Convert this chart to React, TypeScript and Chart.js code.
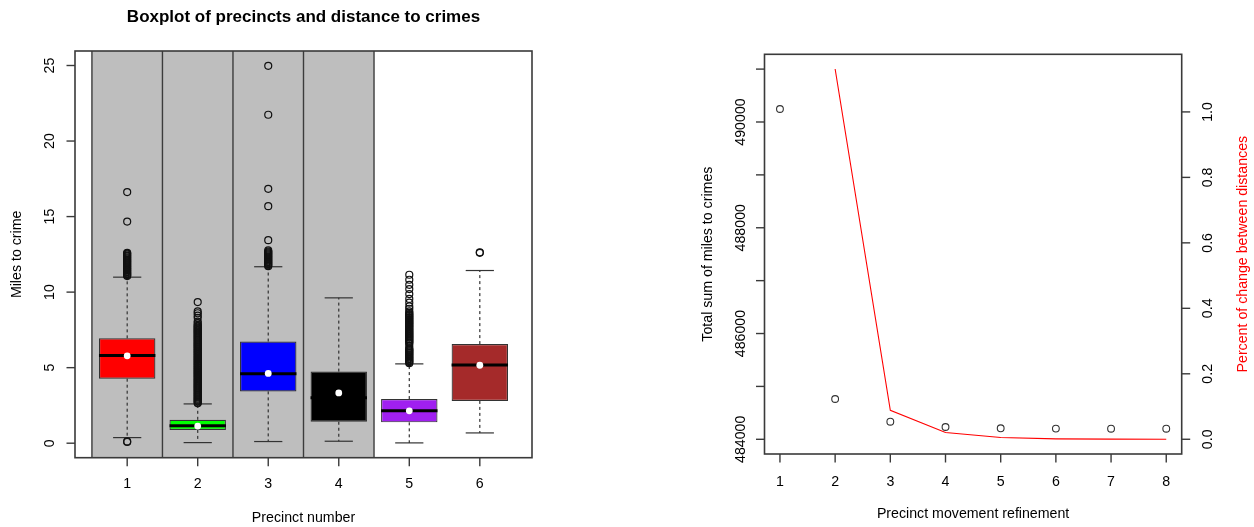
import { useEffect, useRef } from 'react';
import { Chart, registerables } from 'chart.js';

Chart.register(...registerables);

const FONT_FAMILY = '"Liberation Sans", Arial, Helvetica, sans-serif';
const LABEL_PX = 14.2;
const TITLE_PX = 17;

// ---------- Left panel: miles from each precinct to its crimes ----------
const precincts = [1, 2, 3, 4, 5, 6];
const precinctTickLabels = ['1', '2', '3', '4', '5', '6'];
const milesTicks = [0, 5, 10, 15, 20, 25];
const milesTickLabels = ['0', '5', '10', '15', '20', '25'];

const lowerWhisker = [0.37, 0.04, 0.11, 0.13, 0.02, 0.68];
const lowerQuartile = [4.27, 0.88, 3.43, 1.42, 1.38, 2.8];
const medianMiles = [5.8, 1.15, 4.59, 3.0, 2.14, 5.17];
const upperQuartile = [6.94, 1.55, 6.73, 4.74, 2.92, 6.56];
const upperWhisker = [10.99, 2.6, 11.68, 9.62, 5.25, 11.43];
const meanMiles = [5.78, 1.13, 4.62, 3.33, 2.14, 5.16];

const outliersP1 = [0.08, 0.12, 11.06, 11.12, 11.19, 11.25, 11.32, 11.38, 11.45, 11.51, 11.58, 11.64, 11.71,
  11.77, 11.84, 11.9, 11.97, 12.03, 12.1, 12.16, 12.23, 12.29, 12.36, 12.42, 12.49, 12.55, 12.6, 14.67, 16.62];
const outliersP2 = [2.64, 2.7, 2.77, 2.83, 2.9, 2.96, 3.03, 3.09, 3.16, 3.22, 3.29, 3.35, 3.42, 3.48, 3.55, 3.61,
  3.68, 3.74, 3.81, 3.87, 3.94, 4.0, 4.07, 4.13, 4.2, 4.26, 4.33, 4.39, 4.46, 4.52, 4.59, 4.65, 4.72, 4.78, 4.85,
  4.91, 4.98, 5.04, 5.11, 5.17, 5.24, 5.3, 5.37, 5.43, 5.5, 5.56, 5.63, 5.69, 5.76, 5.82, 5.89, 5.95, 6.02, 6.08,
  6.15, 6.21, 6.28, 6.34, 6.41, 6.47, 6.54, 6.6, 6.67, 6.73, 6.8, 6.86, 6.93, 6.99, 7.06, 7.12, 7.19, 7.25, 7.32,
  7.38, 7.45, 7.51, 7.58, 7.64, 7.71, 7.77, 7.84, 7.95, 8.05, 8.3, 8.44, 8.6, 8.72, 9.34];
const outliersP3 = [11.72, 11.78, 11.85, 11.91, 11.98, 12.04, 12.11, 12.17, 12.24, 12.3, 12.37, 12.43, 12.5,
  12.56, 12.63, 12.69, 12.76, 13.44, 15.69, 16.84, 21.74, 24.98];
const outliersP4: number[] = [];
const outliersP5 = [5.3, 5.36, 5.43, 5.49, 5.56, 5.62, 5.69, 5.75, 5.82, 5.88, 5.95, 6.01, 6.08, 6.14, 6.21,
  6.27, 6.44, 6.6, 6.66, 6.73, 6.79, 6.86, 6.92, 6.99, 7.05, 7.12, 7.18, 7.25, 7.31, 7.38, 7.44, 7.51, 7.57, 7.64,
  7.7, 7.77, 7.83, 7.9, 7.96, 8.03, 8.09, 8.16, 8.22, 8.29, 8.35, 8.42, 8.48, 8.55, 8.62, 8.72, 8.9, 9.05, 9.3,
  9.55, 9.87, 10.2, 10.48, 10.82, 11.15];
const outliersP6 = [12.6, 12.64];
const precinctOutliers = [outliersP1, outliersP2, outliersP3, outliersP4, outliersP5, outliersP6];

const boxFill = ['#FF0000', '#00FF00', '#0000FF', '#000000', '#A020F0', '#A52A2A'];
const shadedPrecincts = [1, 2, 3, 4];

// ---------- Right panel: precinct movement refinement ----------
const refinementSteps = [1, 2, 3, 4, 5, 6, 7, 8];
const refinementTickLabels = ['1', '2', '3', '4', '5', '6', '7', '8'];
const totalMiles = [490246, 484762, 484333, 484233, 484208, 484202, 484200, 484200];
const percentChange = [null, 1.131, 0.0886, 0.0207, 0.0052, 0.0012, 0.0004, 0.0];
const totalMilesTicks = [484000, 485000, 486000, 487000, 488000, 489000, 490000, 491000];
const totalMilesLabelled = ['484000', '', '486000', '', '488000', '', '490000', ''];
const percentTicks = [0, 0.2, 0.4, 0.6, 0.8, 1.0];
const percentTickLabels = ['0.0', '0.2', '0.4', '0.6', '0.8', '1.0'];

// ---------- drawing helpers ----------
type Ctx = CanvasRenderingContext2D;
const TICK_LEN = 8.5;
const AXIS_COLOR = '#3a3a3a';

const fontOf = (size: number, bold = false) => `${bold ? 'bold ' : ''}${size}px ${FONT_FAMILY}`;

function seg(ctx: Ctx, x1: number, y1: number, x2: number, y2: number) {
  ctx.beginPath();
  ctx.moveTo(x1, y1);
  ctx.lineTo(x2, y2);
  ctx.stroke();
}

function textH(ctx: Ctx, s: string, x: number, baseline: number, size: number, color = '#000', bold = false) {
  ctx.save();
  ctx.font = fontOf(size, bold);
  ctx.fillStyle = color;
  ctx.textAlign = 'center';
  ctx.textBaseline = 'alphabetic';
  ctx.fillText(s, x, baseline);
  ctx.restore();
}

// text reading bottom-to-top; `baseline` is the x of the glyph baseline
function textV(ctx: Ctx, s: string, baseline: number, y: number, size: number, color = '#000') {
  ctx.save();
  ctx.translate(baseline, y);
  ctx.rotate(-Math.PI / 2);
  ctx.font = fontOf(size);
  ctx.fillStyle = color;
  ctx.textAlign = 'center';
  ctx.textBaseline = 'alphabetic';
  ctx.fillText(s, 0, 0);
  ctx.restore();
}

function frame(ctx: Ctx, a: { left: number; right: number; top: number; bottom: number }) {
  ctx.save();
  ctx.strokeStyle = AXIS_COLOR;
  ctx.lineWidth = 1.6;
  ctx.strokeRect(a.left, a.top, a.right - a.left, a.bottom - a.top);
  ctx.restore();
}

const hiddenLinear = (min: number, max: number, extra: Record<string, unknown> = {}) => ({
  type: 'linear' as const,
  display: false,
  offset: false,
  min,
  max,
  grid: { offset: false },
  ...extra,
});

function BoxplotPanel() {
  const ref = useRef<HTMLCanvasElement>(null);
  useEffect(() => {
    const canvas = ref.current;
    if (!canvas) return;

    const decor = {
      id: 'boxplotDecor',
      beforeDatasetsDraw(chart: any) {
        const { ctx, chartArea: a, scales } = chart;
        const x = scales.x;
        const y = scales.y;
        ctx.save();
        // shaded precinct panels
        const left = x.getPixelForValue(shadedPrecincts[0] - 0.5);
        const right = x.getPixelForValue(shadedPrecincts[shadedPrecincts.length - 1] + 0.5);
        ctx.fillStyle = '#BEBEBE';
        ctx.fillRect(left, a.top, right - left, a.bottom - a.top);
        ctx.strokeStyle = '#3c3c3c';
        ctx.lineWidth = 1.4;
        const edges = [shadedPrecincts[0] - 0.5, ...shadedPrecincts.map((p) => p + 0.5)];
        edges.forEach((e) => {
          const ex = x.getPixelForValue(e);
          seg(ctx, ex, a.top, ex, a.bottom);
        });
        // whiskers and staples
        ctx.strokeStyle = '#333';
        ctx.lineWidth = 1.2;
        precincts.forEach((p, i) => {
          const cx = x.getPixelForValue(p);
          ctx.setLineDash([3, 3]);
          seg(ctx, cx, y.getPixelForValue(upperQuartile[i]), cx, y.getPixelForValue(upperWhisker[i]));
          seg(ctx, cx, y.getPixelForValue(lowerQuartile[i]), cx, y.getPixelForValue(lowerWhisker[i]));
          ctx.setLineDash([]);
          const l = x.getPixelForValue(p - 0.2);
          const r = x.getPixelForValue(p + 0.2);
          seg(ctx, l, y.getPixelForValue(upperWhisker[i]), r, y.getPixelForValue(upperWhisker[i]));
          seg(ctx, l, y.getPixelForValue(lowerWhisker[i]), r, y.getPixelForValue(lowerWhisker[i]));
        });
        ctx.restore();
      },
      afterDatasetDraw(chart: any, args: any) {
        if (args.index !== 0) return;
        const { ctx, scales } = chart;
        const x = scales.x;
        const y = scales.y;
        ctx.save();
        ctx.strokeStyle = '#000';
        ctx.lineWidth = 3;
        precincts.forEach((p, i) => {
          const my = y.getPixelForValue(medianMiles[i]);
          seg(ctx, x.getPixelForValue(p - 0.4), my, x.getPixelForValue(p + 0.4), my);
        });
        ctx.restore();
      },
      afterDraw(chart: any) {
        const { ctx, chartArea: a, scales } = chart;
        const x = scales.x;
        const y = scales.y;
        frame(ctx, a);
        ctx.save();
        ctx.strokeStyle = AXIS_COLOR;
        ctx.lineWidth = 1.4;
        milesTicks.forEach((v, i) => {
          const ty = y.getPixelForValue(v);
          seg(ctx, a.left - TICK_LEN, ty, a.left, ty);
          textV(ctx, milesTickLabels[i], 54.3, ty, LABEL_PX);
        });
        precincts.forEach((p, i) => {
          const tx = x.getPixelForValue(p);
          seg(ctx, tx, a.bottom, tx, a.bottom + TICK_LEN);
          textH(ctx, precinctTickLabels[i], tx, 487.5, LABEL_PX);
        });
        ctx.restore();
        const midX = (a.left + a.right) / 2;
        const midY = (a.top + a.bottom) / 2;
        textH(ctx, 'Boxplot of precincts and distance to crimes', midX, 21.5, TITLE_PX, '#000', true);
        textH(ctx, 'Precinct number', midX, 522.3, LABEL_PX);
        textV(ctx, 'Miles to crime', 21.3, midY, LABEL_PX);
      },
    };

    const outlierPoints = precinctOutliers.flatMap((list, i) => list.map((v) => ({ x: precincts[i], y: v })));
    const meanPoints = precincts.map((p, i) => ({ x: p, y: meanMiles[i] }));

    const chart = new Chart(canvas, {
      type: 'bar',
      data: {
        datasets: [
          {
            type: 'bar',
            data: precincts.map((p, i) => ({ x: p, y: [lowerQuartile[i], upperQuartile[i]] })),
            backgroundColor: boxFill,
            borderColor: '#333',
            borderWidth: 1.2,
            borderSkipped: false,
            barPercentage: 0.8,
            categoryPercentage: 1,
            order: 3,
          },
          {
            type: 'scatter',
            data: outlierPoints,
            pointRadius: 3.5,
            pointBorderWidth: 1.2,
            pointBorderColor: '#111',
            pointBackgroundColor: 'rgba(0,0,0,0)',
            order: 2,
          },
          {
            type: 'scatter',
            data: meanPoints,
            pointRadius: 3.4,
            pointBorderWidth: 0,
            pointBackgroundColor: '#FFFFFF',
            order: 1,
          },
        ],
      } as any,
      options: {
        animation: false,
        responsive: true,
        maintainAspectRatio: false,
        events: [],
        layout: { padding: { left: 75, right: 95, top: 51, bottom: 69.3 } },
        plugins: { legend: { display: false }, tooltip: { enabled: false }, title: { display: false } },
        scales: {
          x: hiddenLinear(0.26, 6.74, {
            afterBuildTicks: (s: any) => {
              s.ticks = precincts.map((v) => ({ value: v }));
            },
          }),
          y: hiddenLinear(-0.96, 25.96),
        },
      } as any,
      plugins: [decor],
    });
    return () => chart.destroy();
  }, []);
  return (
    <div style={{ position: 'relative', width: 627, height: 527 }}>
      <canvas ref={ref} />
    </div>
  );
}

function RefinementPanel() {
  const ref = useRef<HTMLCanvasElement>(null);
  useEffect(() => {
    const canvas = ref.current;
    if (!canvas) return;

    const decor = {
      id: 'refinementAxes',
      afterDraw(chart: any) {
        const { ctx, chartArea: a, scales } = chart;
        const x = scales.x;
        const yl = scales.y;
        const yr = scales.y2;
        frame(ctx, a);
        ctx.save();
        ctx.strokeStyle = AXIS_COLOR;
        ctx.lineWidth = 1.4;
        totalMilesTicks.forEach((v, i) => {
          const ty = yl.getPixelForValue(v);
          seg(ctx, a.left - TICK_LEN, ty, a.left, ty);
          if (totalMilesLabelled[i]) textV(ctx, totalMilesLabelled[i], 118, ty, LABEL_PX);
        });
        percentTicks.forEach((v, i) => {
          const ty = yr.getPixelForValue(v);
          seg(ctx, a.right, ty, a.right + TICK_LEN, ty);
          textV(ctx, percentTickLabels[i], 585, ty, LABEL_PX);
        });
        refinementSteps.forEach((s, i) => {
          const tx = x.getPixelForValue(s);
          seg(ctx, tx, a.bottom, tx, a.bottom + TICK_LEN);
          textH(ctx, refinementTickLabels[i], tx, 486, LABEL_PX);
        });
        ctx.restore();
        const midX = (a.left + a.right) / 2;
        const midY = (a.top + a.bottom) / 2;
        textH(ctx, 'Precinct movement refinement', midX, 518, LABEL_PX);
        textV(ctx, 'Total sum of miles to crimes', 84.6, midY, LABEL_PX);
        textV(ctx, 'Percent of change between distances', 619.5, midY, LABEL_PX, '#FF0000');
      },
    };

    const chart = new Chart(canvas, {
      type: 'scatter',
      data: {
        datasets: [
          {
            type: 'scatter',
            data: refinementSteps.map((s, i) => ({ x: s, y: totalMiles[i] })),
            yAxisID: 'y',
            pointRadius: 3.4,
            pointBorderWidth: 1.1,
            pointBorderColor: '#333',
            pointBackgroundColor: 'rgba(0,0,0,0)',
          },
          {
            type: 'line',
            data: refinementSteps.map((s, i) => ({ x: s, y: percentChange[i] })),
            yAxisID: 'y2',
            borderColor: '#FF0000',
            borderWidth: 1.1,
            pointRadius: 0,
            tension: 0,
            fill: false,
          },
        ],
      } as any,
      options: {
        animation: false,
        responsive: true,
        maintainAspectRatio: false,
        events: [],
        layout: { padding: { left: 137.5, right: 72.3, top: 54.3, bottom: 73 } },
        plugins: { legend: { display: false }, tooltip: { enabled: false }, title: { display: false } },
        scales: {
          x: hiddenLinear(0.72, 8.28, {
            afterBuildTicks: (s: any) => {
              s.ticks = refinementSteps.map((v) => ({ value: v }));
            },
          }),
          y: hiddenLinear(483722, 491280, { position: 'left' }),
          y2: hiddenLinear(-0.045, 1.176, { position: 'right' }),
        },
      } as any,
      plugins: [decor],
    });
    return () => chart.destroy();
  }, []);
  return (
    <div style={{ position: 'relative', width: 627, height: 527 }}>
      <canvas ref={ref} />
    </div>
  );
}

export default function App() {
  return (
    <div
      style={{
        position: 'absolute',
        left: 0,
        top: 0,
        width: 1254,
        height: 527,
        display: 'flex',
        background: '#FFFFFF',
      }}
    >
      <BoxplotPanel />
      <RefinementPanel />
    </div>
  );
}
